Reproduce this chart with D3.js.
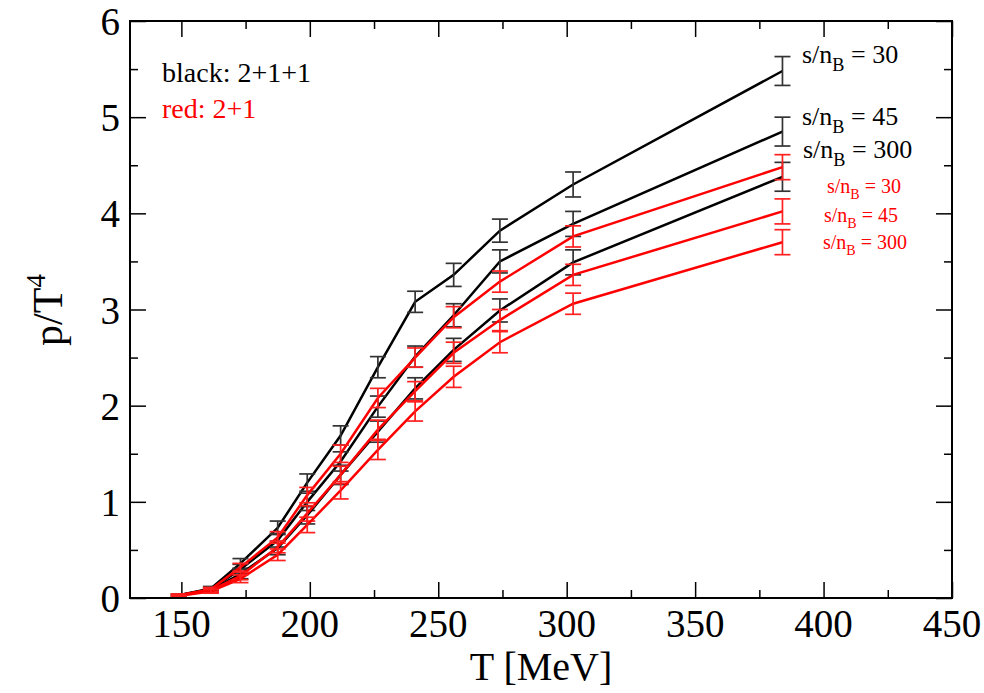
<!DOCTYPE html>
<html>
<head>
<meta charset="utf-8">
<script src="https://cdn.jsdelivr.net/npm/d3@7"></script>
<style>
  body { margin: 0; background: #fff; }
  text { font-family: "Liberation Serif", "DejaVu Serif", serif; }
</style>
</head>
<body>
<div id="chart"></div>
<script>
// temperatures (MeV)
const temps = [149, 161.5, 173, 187.5, 199, 212, 226.5, 241, 256, 274, 302.5, 384];

// p/T^4, black = 2+1+1, red = 2+1
const black30  = [0.03, 0.10, 0.36, 0.73, 1.20, 1.69, 2.40, 3.08, 3.36, 3.82, 4.30, 5.48];
const black45  = [0.03, 0.09, 0.30, 0.60, 1.00, 1.42, 1.99, 2.51, 2.94, 3.50, 3.89, 4.85];
const black300 = [0.03, 0.08, 0.25, 0.52, 0.86, 1.28, 1.73, 2.18, 2.58, 2.99, 3.49, 4.38];
const red30    = [0.03, 0.09, 0.32, 0.63, 1.07, 1.50, 2.08, 2.50, 2.92, 3.29, 3.76, 4.48];
const red45    = [0.03, 0.08, 0.23, 0.53, 0.88, 1.28, 1.75, 2.15, 2.55, 2.89, 3.36, 4.02];
const red300   = [0.02, 0.07, 0.20, 0.45, 0.76, 1.12, 1.54, 1.94, 2.30, 2.66, 3.06, 3.70];

// error bars
const errBlack = [0.01, 0.02, 0.05, 0.07, 0.09, 0.10, 0.11, 0.11, 0.12, 0.12, 0.13, 0.15];
const errRed   = [0.01, 0.02, 0.04, 0.06, 0.08, 0.09, 0.10, 0.10, 0.11, 0.11, 0.11, 0.13];

const xTicks = [150, 200, 250, 300, 350, 400, 450];
const yTicks = [0, 1, 2, 3, 4, 5, 6];

const series = [
    {vals: black30,  err: errBlack, color: "#000", bar: "#333"},
    {vals: black45,  err: errBlack, color: "#000", bar: "#333"},
    {vals: black300, err: errBlack, color: "#000", bar: "#333"},
    {vals: red30,    err: errRed,   color: "#ff0000", bar: "#ff2020"},
    {vals: red45,    err: errRed,   color: "#ff0000", bar: "#ff2020"},
    {vals: red300,   err: errRed,   color: "#ff0000", bar: "#ff2020"}
];

const width = 984, height = 693;
const mLeft = 130, mRight = 952, mTop = 21, mBottom = 598;

const svg = d3.select("#chart").append("svg")
    .attr("width", width)
    .attr("height", height);

const x = d3.scaleLinear().domain([130, 450]).range([mLeft, mRight]);
const y = d3.scaleLinear().domain([0, 6]).range([mBottom, mTop]);

const xMinor = d3.range(175, 450, 50);
const yMinor = d3.range(0.5, 6, 1);

// axes, ticks pointing inwards on all sides
function tickAxis(axisFn, scale, values, size, pos) {
    return svg.append("g")
        .attr("transform", pos)
        .call(axisFn(scale).tickValues(values).tickSize(size).tickFormat(""))
        .call(g => g.select(".domain").remove())
        .call(g => g.selectAll("line").attr("stroke", "#000").attr("stroke-width", 1.5));
}
tickAxis(d3.axisTop, x, xTicks, 16, `translate(0,${mBottom})`);
tickAxis(d3.axisTop, x, xMinor, 8, `translate(0,${mBottom})`);
tickAxis(d3.axisBottom, x, xTicks, 16, `translate(0,${mTop})`);
tickAxis(d3.axisBottom, x, xMinor, 8, `translate(0,${mTop})`);
tickAxis(d3.axisRight, y, yTicks, 16, `translate(${mLeft},0)`);
tickAxis(d3.axisRight, y, yMinor, 8, `translate(${mLeft},0)`);
tickAxis(d3.axisLeft, y, yTicks, 16, `translate(${mRight},0)`);
tickAxis(d3.axisLeft, y, yMinor, 8, `translate(${mRight},0)`);

// tick labels
svg.append("g").selectAll("text")
    .data(xTicks)
    .enter().append("text")
    .attr("x", d => x(d))
    .attr("y", 637)
    .attr("text-anchor", "middle")
    .attr("font-size", 39)
    .text(d => d);

svg.append("g").selectAll("text")
    .data(yTicks)
    .enter().append("text")
    .attr("x", 120)
    .attr("y", d => y(d) + 14)
    .attr("text-anchor", "end")
    .attr("font-size", 39)
    .text(d => d);

// axis titles
svg.append("text")
    .attr("x", (mLeft + mRight) / 2)
    .attr("y", 680)
    .attr("text-anchor", "middle")
    .attr("font-size", 40)
    .text("T [MeV]");

const yl = svg.append("text")
    .attr("transform", "translate(62,310) rotate(-90)")
    .attr("text-anchor", "middle")
    .attr("font-size", 42);
yl.append("tspan").text("p/T");
yl.append("tspan").attr("dy", -17).attr("font-size", 27).text("4");

// lines + error bars
const line = d3.line()
    .x((d, i) => x(temps[i]))
    .y(d => y(d));

series.forEach(s => {
    const g = svg.append("g");
    g.append("path")
        .datum(s.vals)
        .attr("fill", "none")
        .attr("stroke", s.color)
        .attr("stroke-width", 2.5)
        .attr("d", line);

    const bars = g.selectAll(".eb")
        .data(s.vals.map((v, i) => ({t: temps[i], v: v, e: s.err[i]})))
        .enter().append("g")
        .attr("stroke", s.bar)
        .attr("stroke-width", 1.7);
    bars.append("line")
        .attr("x1", d => x(d.t)).attr("x2", d => x(d.t))
        .attr("y1", d => y(d.v - d.e)).attr("y2", d => y(d.v + d.e));
    bars.append("line")
        .attr("x1", d => x(d.t) - 8).attr("x2", d => x(d.t) + 8)
        .attr("y1", d => y(d.v - d.e)).attr("y2", d => y(d.v - d.e));
    bars.append("line")
        .attr("x1", d => x(d.t) - 8).attr("x2", d => x(d.t) + 8)
        .attr("y1", d => y(d.v + d.e)).attr("y2", d => y(d.v + d.e));
});

// frame
svg.append("rect")
    .attr("x", mLeft).attr("y", mTop)
    .attr("width", mRight - mLeft).attr("height", mBottom - mTop)
    .attr("fill", "none")
    .attr("stroke", "#000")
    .attr("stroke-width", 2);

// legend text
svg.append("text").attr("x", 162).attr("y", 82).attr("font-size", 28)
    .attr("fill", "#000").text("black: 2+1+1");
svg.append("text").attr("x", 162).attr("y", 118).attr("font-size", 28)
    .attr("fill", "#ff0000").text("red: 2+1");

// s/n_B labels
const labels = [
    {x: 802, y: 63,  size: 26, color: "#000", val: "30"},
    {x: 802, y: 125, size: 26, color: "#000", val: "45"},
    {x: 803, y: 158, size: 26, color: "#000", val: "300"},
    {x: 827, y: 193, size: 20, color: "#ff0000", val: "30"},
    {x: 824, y: 222, size: 20, color: "#ff0000", val: "45"},
    {x: 823, y: 249, size: 20, color: "#ff0000", val: "300"}
];
labels.forEach(l => {
    const t = svg.append("text")
        .attr("x", l.x).attr("y", l.y)
        .attr("font-size", l.size)
        .attr("fill", l.color);
    t.append("tspan").text("s/n");
    t.append("tspan").attr("dy", l.size * 0.3).attr("font-size", l.size * 0.7).text("B");
    t.append("tspan").attr("dy", -l.size * 0.3).text(" = " + l.val);
});
</script>
</body>
</html>
